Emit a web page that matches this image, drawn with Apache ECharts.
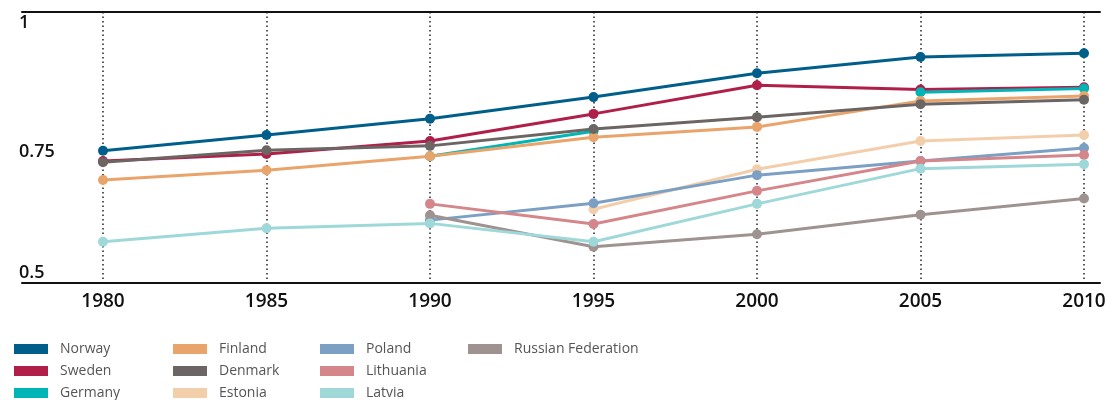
<!DOCTYPE html>
<html>
<head>
<meta charset="utf-8">
<script src="https://cdn.jsdelivr.net/npm/echarts@6/dist/echarts.min.js"></script>
<style>
  html, body { margin: 0; padding: 0; background: #fff; }
  #chart { width: 1107px; height: 400px; }
</style>
</head>
<body>
<div id="chart"></div>
<script>
'use strict';

var years = ['1980', '1985', '1990', '1995', '2000', '2005', '2010'];

var norway = [0.744, 0.773, 0.803, 0.843, 0.887, 0.917, 0.924];
var sweden = [0.725, 0.738, 0.762, 0.812, 0.865, 0.857, 0.861];
var germany = [null, null, 0.734, 0.780, null, 0.852, 0.859];
var finland = [0.690, 0.708, 0.734, 0.769, 0.788, 0.836, 0.845];
var denmark = [0.723, 0.745, 0.753, 0.784, 0.806, 0.830, 0.838];
var estonia = [null, null, null, 0.636, 0.710, 0.762, 0.773];
var poland = [null, null, 0.616, 0.647, 0.699, 0.725, 0.749];
var lithuania = [null, null, 0.646, 0.609, 0.670, 0.725, 0.736];
var latvia = [0.576, 0.601, 0.610, 0.576, 0.646, 0.711, 0.719];
var russia = [null, null, 0.625, 0.567, 0.590, 0.626, 0.656];

var yTicks = [0.5, 0.75, 1];

var myChart = echarts.init(document.getElementById('chart'));

function line(name, data, color) {
    return {
        name: name,
        type: 'line',
        xAxisIndex: 2,
        yAxisIndex: 1,
        data: data,
        symbol: 'circle',
        symbolSize: 10,
        connectNulls: false,
        lineStyle: {width: 3, color: color},
        itemStyle: {color: color},
        emphasis: {disabled: true}
    };
}

// legend in 4 columns, like the original
function legendCol(left, names) {
    return {
        orient: 'vertical',
        left: left,
        top: 342,
        height: 80,
        padding: 0,
        itemWidth: 34,
        itemHeight: 10,
        itemGap: 8,
        icon: 'rect',
        selectedMode: false,
        data: names,
        textStyle: {
            color: '#555',
            fontSize: 14,
            lineHeight: 14,
            fontFamily: 'Open Sans',
            padding: [0, 0, 0, 7]
        }
    };
}

var option = {
    animation: false,
    grid: [
        {left: 22, right: 7, top: 12, bottom: 117, outerBoundsMode: 'none'},
        {left: 103, right: 23, top: 12, bottom: 117, outerBoundsMode: 'none'}
    ],
    xAxis: [
        {
            gridIndex: 0, type: 'value', min: 0, max: 1, position: 'bottom',
            axisLine: {show: true, lineStyle: {color: '#111', width: 2}},
            axisTick: {show: false}, axisLabel: {show: false}, splitLine: {show: false}
        },
        {
            gridIndex: 0, type: 'value', min: 0, max: 1, position: 'top',
            axisLine: {show: true, lineStyle: {color: '#111', width: 2}},
            axisTick: {show: false}, axisLabel: {show: false}, splitLine: {show: false}
        },
        {
            gridIndex: 1, type: 'category', data: years, boundaryGap: false,
            axisLine: {show: false},
            axisTick: {show: false},
            axisLabel: {
                margin: 9, color: '#111', fontSize: 19,
                fontFamily: 'Open Sans', fontWeight: 600
            },
            splitLine: {show: true, lineStyle: {type: [1.5, 3], color: '#222', width: 1.5}}
        }
    ],
    yAxis: [
        {
            gridIndex: 0, type: 'value', min: yTicks[0], max: yTicks[2], interval: 0.25,
            axisLine: {show: false}, axisTick: {show: false}, splitLine: {show: false},
            axisLabel: {
                inside: true, margin: -3, color: '#111', fontSize: 18,
                fontFamily: 'Open Sans', fontWeight: 600, lineHeight: 21,
                formatter: function (v) {
                    if (v === 1) return '\n1';
                    if (v === 0.5) return '0.5\n';
                    return '{m|0.75}';
                },
                rich: {
                    m: {padding: [8, 0, 0, 0], fontSize: 18, fontWeight: 600, color: '#111', fontFamily: 'Open Sans'}
                }
            }
        },
        {
            gridIndex: 1, type: 'value', min: 0.5, max: 1,
            show: false, splitLine: {show: false}
        }
    ],
    legend: [
        legendCol(14, ['Norway', 'Sweden', 'Germany']),
        legendCol(173, ['Finland', 'Denmark', 'Estonia']),
        legendCol(320, ['Poland', 'Lithuania', 'Latvia']),
        legendCol(468, ['Russian Federation'])
    ],
    series: [
        line('Norway', norway, '#005f8a'),
        line('Sweden', sweden, '#b01f49'),
        line('Germany', germany, '#00b5b5'),
        line('Finland', finland, '#e9a46c'),
        line('Denmark', denmark, '#6b6563'),
        line('Estonia', estonia, '#f3ceaa'),
        line('Poland', poland, '#7ba0c4'),
        line('Lithuania', lithuania, '#d4868a'),
        line('Russian Federation', russia, '#9f9391'),
        line('Latvia', latvia, '#9ed8d9')
    ]
};

myChart.setOption(option);
</script>
</body>
</html>
